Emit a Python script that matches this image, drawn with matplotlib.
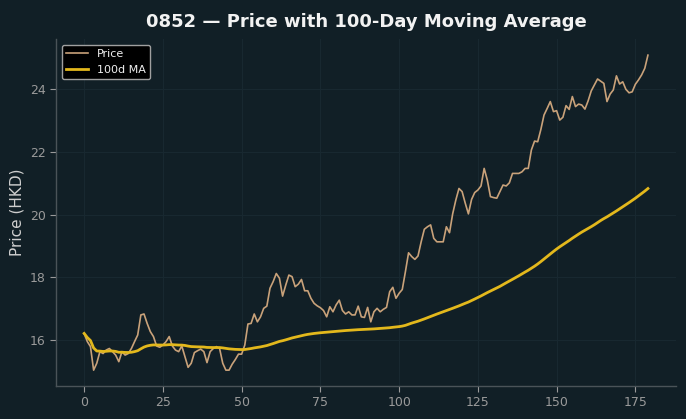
import numpy as np
import pandas as pd
import matplotlib
matplotlib.use('Agg')
import matplotlib.pyplot as plt

# ── Data ───────────────────────────────────────────────────────────────────
TICKER = '0852'
WINDOW = 100

price = [
    16.21, 15.95, 15.79, 15.04, 15.26, 15.63, 15.57, 15.68, 15.73, 15.63,
    15.52, 15.31, 15.63, 15.52, 15.57, 15.73, 15.95, 16.16, 16.80, 16.83,
    16.53, 16.27, 16.11, 15.81, 15.77, 15.84, 15.95, 16.11, 15.81, 15.68,
    15.63, 15.81, 15.47, 15.13, 15.26, 15.60, 15.66, 15.71, 15.63, 15.28,
    15.63, 15.73, 15.79, 15.73, 15.26, 15.04, 15.04, 15.23, 15.38, 15.55,
    15.55, 15.84, 16.51, 16.53, 16.83, 16.58, 16.74, 17.01, 17.08, 17.65,
    17.86, 18.12, 17.97, 17.40, 17.75, 18.07, 18.02, 17.70, 17.78, 17.93,
    17.57, 17.57, 17.33, 17.17, 17.09, 17.03, 16.94, 16.74, 17.06, 16.90,
    17.12, 17.27, 16.94, 16.83, 16.90, 16.80, 16.80, 17.08, 16.74, 16.72,
    17.04, 16.58, 16.90, 17.01, 16.90, 16.98, 17.04, 17.54, 17.68, 17.33,
    17.49, 17.61, 18.18, 18.78, 18.66, 18.57, 18.68, 19.13, 19.53, 19.61,
    19.67, 19.24, 19.13, 19.13, 19.13, 19.61, 19.42, 20.02, 20.46, 20.83,
    20.73, 20.36, 20.02, 20.48, 20.70, 20.78, 20.91, 21.47, 21.10, 20.57,
    20.54, 20.52, 20.73, 20.94, 20.91, 21.01, 21.31, 21.31, 21.31, 21.36,
    21.47, 21.47, 22.06, 22.34, 22.32, 22.71, 23.17, 23.38, 23.60, 23.28,
    23.31, 23.01, 23.10, 23.47, 23.35, 23.76, 23.44, 23.52, 23.49, 23.36,
    23.62, 23.94, 24.13, 24.32, 24.25, 24.18, 23.60, 23.84, 23.97, 24.42,
    24.16, 24.23, 23.99, 23.88, 23.91, 24.15, 24.29, 24.45, 24.66, 25.08,
]

df = pd.DataFrame({'price': price})
df['ma'] = df['price'].rolling(WINDOW, min_periods=1).mean()

# ── Style ──────────────────────────────────────────────────────────────────
BG = '#111f26'
GRID = '#182830'
C_PRICE = '#c9a27a'
C_MA = '#e3b81c'
TEXT = '#f2f2f2'
TICK = '#9a9a9a'

plt.rcParams.update({
    'font.family': 'DejaVu Sans',
    'figure.facecolor': BG,
    'axes.facecolor': BG,
    'savefig.facecolor': BG,
})

fig = plt.figure(figsize=(6.86, 4.19), dpi=100)
ax = fig.add_axes([0.0816, 0.079, 0.904, 0.827])

ax.plot(df.index, df['price'], color=C_PRICE, lw=1.2, label='Price')
ax.plot(df.index, df['ma'], color=C_MA, lw=2.0, label=f'{WINDOW}d MA')

ax.set_title(f'{TICKER} — Price with {WINDOW}-Day Moving Average',
             fontsize=13, fontweight='bold', color=TEXT, pad=9)
ax.set_ylabel('Price (HKD)', fontsize=11, color='#cfcfcf')
ax.tick_params(colors=TICK, labelsize=9, length=4)
ax.set_xticks([0, 25, 50, 75, 100, 125, 150, 175])
ax.set_yticks([16, 18, 20, 22, 24])

for side in ('top', 'right'):
    ax.spines[side].set_visible(False)
for side in ('left', 'bottom'):
    ax.spines[side].set_color('#4a5358')
    ax.spines[side].set_linewidth(1.0)

ax.grid(True, color=GRID, lw=0.8)
ax.set_axisbelow(True)

leg = ax.legend(loc='upper left', fontsize=8, facecolor='black',
                edgecolor='#a0a0a0', framealpha=1.0, labelcolor='#f0f0f0')

fig.savefig('out.png', dpi=100)
